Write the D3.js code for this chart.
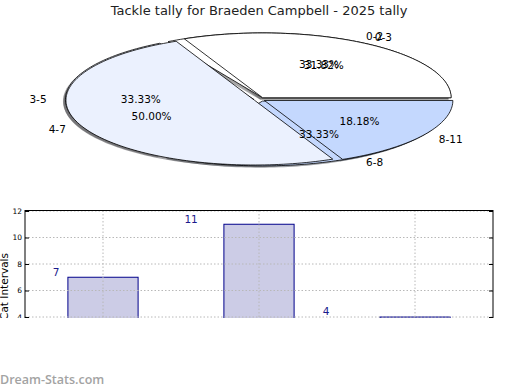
<!DOCTYPE html>
<html>
<head>
<meta charset="utf-8">
<script src="https://cdn.jsdelivr.net/npm/d3@7"></script>
<style>
  body { margin: 0; background: #fff; }
  svg { display: block; }
  text { font-family: "DejaVu Sans", sans-serif; }
</style>
</head>
<body>
<svg id="chart" width="520" height="390"></svg>
<script>
const title = "Tackle tally for Braeden Campbell - 2025 tally";
const spanLabels = ["0-2", "3-5", "6-8"];
const spanValues = [1, 1, 1];
const catLabels = ["0-3", "4-7", "8-11"];
const catValues = [7, 11, 4];
const sliceColors = ["#ffffff", "#ebf1fe", "#c4d8fe"];
const yTicks = [4, 6, 8, 10, 12];
const yLabel = "Cat Intervals";
const watermark = "Dream-Stats.com";

const svg = d3.select("#chart");

svg
  .append("text")
  .attr("x", 259)
  .attr("y", 15)
  .attr("text-anchor", "middle")
  .attr("fill", "#222")
  .style("font-size", "13px")
  .text(title);

// ---- pie (two pies drawn on top of each other) ----
const cx = 259.6,
  cy = 99.4,
  rx = 188.5,
  ry = 64.8;
const explode = 0.03;
const px = d3.scaleLinear().domain([-1, 1]).range([cx - rx, cx + rx]);
const py = d3.scaleLinear().domain([-1, 1]).range([cy + ry, cy - ry]);
const pie = d3.pie().sort(null).startAngle(0).endAngle(Math.PI * 2);
const line = d3
  .line()
  .x((d) => px(d[0]))
  .y((d) => py(d[1]));
const fmt = d3.format(".2f");

function wedges(labels, values) {
  const total = d3.sum(values);
  return pie(values).map((a, i) => {
    const mid = (a.startAngle + a.endAngle) / 2;
    const ox = explode * Math.cos(mid);
    const oy = explode * Math.sin(mid);
    const n = Math.max(2, Math.ceil((a.endAngle - a.startAngle) * 40));
    const pts = [[ox, oy]];
    for (let k = 0; k <= n; k++) {
      const t = a.startAngle + ((a.endAngle - a.startAngle) * k) / n;
      pts.push([ox + Math.cos(t), oy + Math.sin(t)]);
    }
    pts.push([ox, oy]);
    return {
      label: labels[i],
      pct: fmt((a.value / total) * 100) + "%",
      mid,
      ox,
      oy,
      pts,
      color: sliceColors[i],
    };
  });
}

const pieA = wedges(spanLabels, spanValues);
const pieB = wedges(catLabels, catValues);
const all = pieA.concat(pieB);

const gPie = svg.append("g").attr("class", "pie");

gPie
  .selectAll(".shadow")
  .data(all)
  .join("path")
  .attr("class", "shadow")
  .attr("transform", "translate(-2.5,1.8)")
  .attr("d", (d) => line(d.pts))
  .attr("fill", (d) => {
    const c = d3.rgb(d.color);
    return d3.rgb(c.r * 0.3, c.g * 0.3, c.b * 0.3);
  })
  .attr("fill-opacity", 0.5);

gPie
  .selectAll(".wedge")
  .data(all)
  .join("path")
  .attr("class", "wedge")
  .attr("d", (d) => line(d.pts))
  .attr("fill", (d) => d.color)
  .attr("stroke", "#000")
  .attr("stroke-width", 0.8)
  .attr("stroke-linejoin", "round");

gPie
  .selectAll(".slice-label")
  .data(all)
  .join("text")
  .attr("class", "slice-label")
  .attr("x", (d) => px(d.ox + 1.1 * Math.cos(d.mid)))
  .attr("y", (d) => py(d.oy + 1.1 * Math.sin(d.mid)))
  .attr("dy", "0.35em")
  .attr("text-anchor", (d) =>
    d.ox + 1.1 * Math.cos(d.mid) > 0 ? "start" : "end"
  )
  .style("font-size", "10.5px")
  .text((d) => d.label);

gPie
  .selectAll(".pct-label")
  .data(all)
  .join("text")
  .attr("class", "pct-label")
  .attr("x", (d) => px(d.ox + 0.6 * Math.cos(d.mid)))
  .attr("y", (d) => py(d.oy + 0.6 * Math.sin(d.mid)))
  .attr("dy", "0.35em")
  .attr("text-anchor", "middle")
  .style("font-size", "10.5px")
  .text((d) => d.pct);

// ---- bar chart (cut off at the bottom) ----
const axLeft = 25,
  axRight = 493,
  axTop = 210.5,
  axBottom = 370;
const bx = d3.scaleLinear().domain([-0.5, 2.5]).range([axLeft, axRight]);
const by = d3.scaleLinear().domain([0, 12]).range([axBottom, 211]);
const barWidth = 0.45;

svg
  .append("clipPath")
  .attr("id", "cut")
  .append("rect")
  .attr("x", 0)
  .attr("y", 0)
  .attr("width", 520)
  .attr("height", 318);

const gBar = svg.append("g").attr("clip-path", "url(#cut)");

gBar
  .selectAll(".bar")
  .data(catValues)
  .join("rect")
  .attr("class", "bar")
  .attr("x", (d, i) => bx(i - barWidth / 2))
  .attr("width", (d, i) => bx(i + barWidth / 2) - bx(i - barWidth / 2))
  .attr("y", (d) => by(d))
  .attr("height", (d) => by(0) - by(d))
  .attr("fill", "#ccccE6")
  .attr("stroke", "#00008b")
  .attr("stroke-width", 1);

const grid = gBar
  .append("g")
  .attr("stroke", "#b8b8b8")
  .attr("stroke-dasharray", "1.5,2")
  .attr("stroke-width", 1);
grid
  .selectAll(".hgrid")
  .data(yTicks)
  .join("line")
  .attr("x1", axLeft)
  .attr("x2", axRight)
  .attr("y1", (d) => by(d))
  .attr("y2", (d) => by(d));
grid
  .selectAll(".vgrid")
  .data(catLabels)
  .join("line")
  .attr("x1", (d, i) => bx(i))
  .attr("x2", (d, i) => bx(i))
  .attr("y1", axTop)
  .attr("y2", axBottom);

const yAxisL = d3.axisLeft(by).tickValues(yTicks).tickSize(-4).tickPadding(3);
const yAxisR = d3.axisRight(by).tickValues(yTicks).tickSize(-4).tickFormat("");

gBar
  .append("g")
  .attr("transform", `translate(${axLeft},0)`)
  .call(yAxisL)
  .call((g) => g.select(".domain").remove())
  .call((g) =>
    g.selectAll("text").style("font-size", "7.5px").attr("fill", "#000")
  );
gBar
  .append("g")
  .attr("transform", `translate(${axRight},0)`)
  .call(yAxisR)
  .call((g) => g.select(".domain").remove());

gBar
  .append("rect")
  .attr("x", axLeft)
  .attr("y", axTop)
  .attr("width", axRight - axLeft)
  .attr("height", axBottom - axTop)
  .attr("fill", "none")
  .attr("stroke", "#000")
  .attr("stroke-width", 1);

gBar
  .selectAll(".value-label")
  .data(catValues)
  .join("text")
  .attr("class", "value-label")
  .attr("x", (d, i) => bx(i - 0.3 - 0.135 * i))
  .attr("y", (d) => by(d + 0.4))
  .attr("dy", "0.35em")
  .attr("text-anchor", "middle")
  .attr("fill", "#1a1a8c")
  .style("font-size", "10.5px")
  .text((d) => d);

gBar
  .append("text")
  .attr("transform", "translate(8,253) rotate(-90)")
  .attr("text-anchor", "end")
  .style("font-size", "10.5px")
  .text(yLabel);

svg
  .append("text")
  .attr("x", 0)
  .attr("y", 384)
  .attr("fill", "#a3a3a3")
  .style("font-family", "'Open Sans', sans-serif")
  .style("font-weight", 600)
  .style("font-size", "12.5px")
  .text(watermark);
</script>
</body>
</html>
